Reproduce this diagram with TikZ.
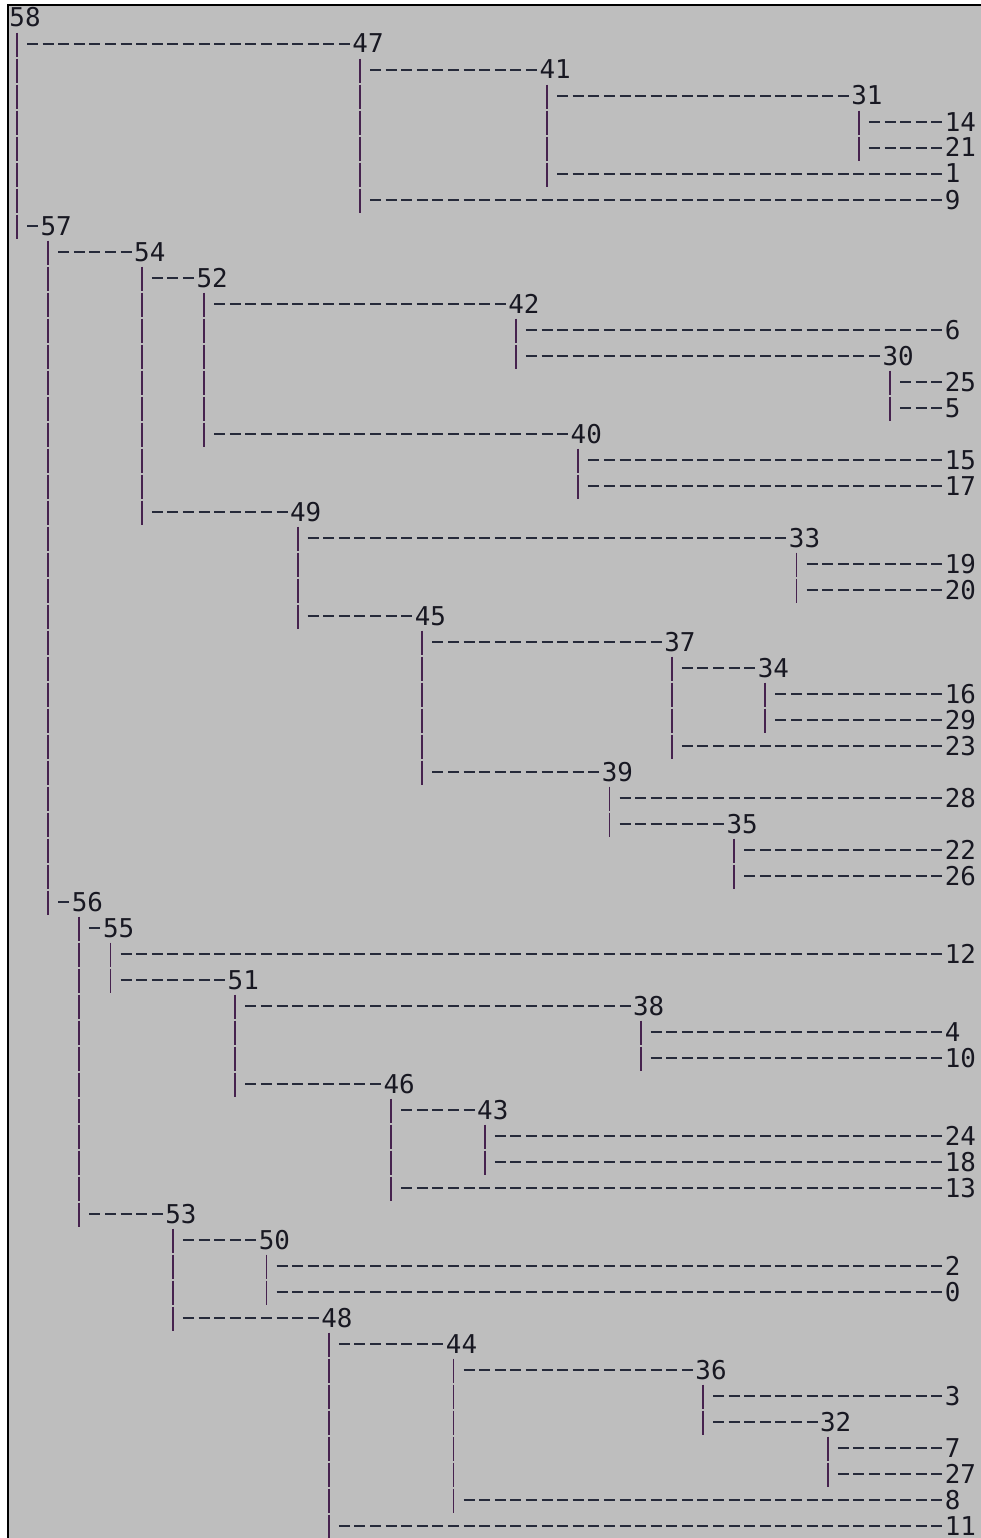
\documentclass[tikz,border=0pt]{standalone}
\usepackage{fontspec}
\newfontfamily\termfont{DejaVu Sans Mono}
\usetikzlibrary{calc}
\definecolor{panel}{RGB}{190,190,190}
\definecolor{stemcol}{RGB}{70,34,78}
\definecolor{twigcol}{RGB}{38,42,58}
\definecolor{numcol}{RGB}{24,24,34}

\begin{document}
\begin{tikzpicture}[
  x=11.6925pt, y=-19.5pt,
  num/.style={anchor=base west,inner sep=0pt,text=numcol,font=\termfont\fontsize{19.42pt}{19.5pt}\selectfont},
  stem/.style={draw=stemcol,line width=1.35pt,dash pattern=on 18.225pt off 1.275pt,
    to path={($(\tikztostart.base west)+(0.5,0.22)$) -- ($(\tikztostart.base west |- \tikztotarget.base)+(0.5,0.154)$)}},
  twig/.style={draw=twigcol,line width=1.5pt,dash pattern=on 8.25pt off 3.4425pt,
    to path={($(\tikztostart.base west |- \tikztotarget.base)+(1.1475,-0.365)$) -- ($(\tikztotarget.base west)+(-0.1475,-0.365)$)}}
]
\useasboundingbox (-0.5901,-1.03846) rectangle (62.3339,58.1154);
\fill[white] (-0.5901,-1.03846) rectangle (62.3339,58.1154);
\fill[panel] (-0.0577,-0.827) rectangle (62.3339,58.1154);
\draw[black,line width=1.5pt] (-0.0577,58.1154) -- (-0.0577,-0.827) -- (62.3339,-0.827);

% merge labels, one row each
\node[num] (n58) at (0,0) {58};
\node[num] (n47) at (22,1) {47};
\node[num] (n41) at (34,2) {41};
\node[num] (n31) at (54,3) {31};
\node[num] (n14) at (60,4) {14};
\node[num] (n21) at (60,5) {21};
\node[num] (n1) at (60,6) {1};
\node[num] (n9) at (60,7) {9};
\node[num] (n57) at (2,8) {57};
\node[num] (n54) at (8,9) {54};
\node[num] (n52) at (12,10) {52};
\node[num] (n42) at (32,11) {42};
\node[num] (n6) at (60,12) {6};
\node[num] (n30) at (56,13) {30};
\node[num] (n25) at (60,14) {25};
\node[num] (n5) at (60,15) {5};
\node[num] (n40) at (36,16) {40};
\node[num] (n15) at (60,17) {15};
\node[num] (n17) at (60,18) {17};
\node[num] (n49) at (18,19) {49};
\node[num] (n33) at (50,20) {33};
\node[num] (n19) at (60,21) {19};
\node[num] (n20) at (60,22) {20};
\node[num] (n45) at (26,23) {45};
\node[num] (n37) at (42,24) {37};
\node[num] (n34) at (48,25) {34};
\node[num] (n16) at (60,26) {16};
\node[num] (n29) at (60,27) {29};
\node[num] (n23) at (60,28) {23};
\node[num] (n39) at (38,29) {39};
\node[num] (n28) at (60,30) {28};
\node[num] (n35) at (46,31) {35};
\node[num] (n22) at (60,32) {22};
\node[num] (n26) at (60,33) {26};
\node[num] (n56) at (4,34) {56};
\node[num] (n55) at (6,35) {55};
\node[num] (n12) at (60,36) {12};
\node[num] (n51) at (14,37) {51};
\node[num] (n38) at (40,38) {38};
\node[num] (n4) at (60,39) {4};
\node[num] (n10) at (60,40) {10};
\node[num] (n46) at (24,41) {46};
\node[num] (n43) at (30,42) {43};
\node[num] (n24) at (60,43) {24};
\node[num] (n18) at (60,44) {18};
\node[num] (n13) at (60,45) {13};
\node[num] (n53) at (10,46) {53};
\node[num] (n50) at (16,47) {50};
\node[num] (n2) at (60,48) {2};
\node[num] (n0) at (60,49) {0};
\node[num] (n48) at (20,50) {48};
\node[num] (n44) at (28,51) {44};
\node[num] (n36) at (44,52) {36};
\node[num] (n3) at (60,53) {3};
\node[num] (n32) at (52,54) {32};
\node[num] (n7) at (60,55) {7};
\node[num] (n27) at (60,56) {27};
\node[num] (n8) at (60,57) {8};
\node[num] (n11) at (60,58) {11};

% bars down to the last child
\draw[stem] (n58) to (n57);
\draw[stem] (n47) to (n9);
\draw[stem] (n41) to (n1);
\draw[stem] (n31) to (n21);
\draw[stem] (n57) to (n56);
\draw[stem] (n54) to (n49);
\draw[stem] (n52) to (n40);
\draw[stem] (n42) to (n30);
\draw[stem] (n30) to (n5);
\draw[stem] (n40) to (n17);
\draw[stem] (n49) to (n45);
\draw[stem] (n33) to (n20);
\draw[stem] (n45) to (n39);
\draw[stem] (n37) to (n23);
\draw[stem] (n34) to (n29);
\draw[stem] (n39) to (n35);
\draw[stem] (n35) to (n26);
\draw[stem] (n56) to (n53);
\draw[stem] (n55) to (n51);
\draw[stem] (n51) to (n46);
\draw[stem] (n38) to (n10);
\draw[stem] (n46) to (n13);
\draw[stem] (n43) to (n18);
\draw[stem] (n53) to (n48);
\draw[stem] (n50) to (n0);
\draw[stem] (n48) to (n11);
\draw[stem] (n44) to (n8);
\draw[stem] (n36) to (n32);
\draw[stem] (n32) to (n27);

% dashed runs out to each child
\draw[twig] (n58) to (n47) (n58) to (n57);
\draw[twig] (n47) to (n41) (n47) to (n9);
\draw[twig] (n41) to (n31) (n41) to (n1);
\draw[twig] (n31) to (n14) (n31) to (n21);
\draw[twig] (n57) to (n54) (n57) to (n56);
\draw[twig] (n54) to (n52) (n54) to (n49);
\draw[twig] (n52) to (n42) (n52) to (n40);
\draw[twig] (n42) to (n6) (n42) to (n30);
\draw[twig] (n30) to (n25) (n30) to (n5);
\draw[twig] (n40) to (n15) (n40) to (n17);
\draw[twig] (n49) to (n33) (n49) to (n45);
\draw[twig] (n33) to (n19) (n33) to (n20);
\draw[twig] (n45) to (n37) (n45) to (n39);
\draw[twig] (n37) to (n34) (n37) to (n23);
\draw[twig] (n34) to (n16) (n34) to (n29);
\draw[twig] (n39) to (n28) (n39) to (n35);
\draw[twig] (n35) to (n22) (n35) to (n26);
\draw[twig] (n56) to (n55) (n56) to (n53);
\draw[twig] (n55) to (n12) (n55) to (n51);
\draw[twig] (n51) to (n38) (n51) to (n46);
\draw[twig] (n38) to (n4) (n38) to (n10);
\draw[twig] (n46) to (n43) (n46) to (n13);
\draw[twig] (n43) to (n24) (n43) to (n18);
\draw[twig] (n53) to (n50) (n53) to (n48);
\draw[twig] (n50) to (n2) (n50) to (n0);
\draw[twig] (n48) to (n44) (n48) to (n11);
\draw[twig] (n44) to (n36) (n44) to (n8);
\draw[twig] (n36) to (n3) (n36) to (n32);
\draw[twig] (n32) to (n7) (n32) to (n27);
\end{tikzpicture}
\end{document}
